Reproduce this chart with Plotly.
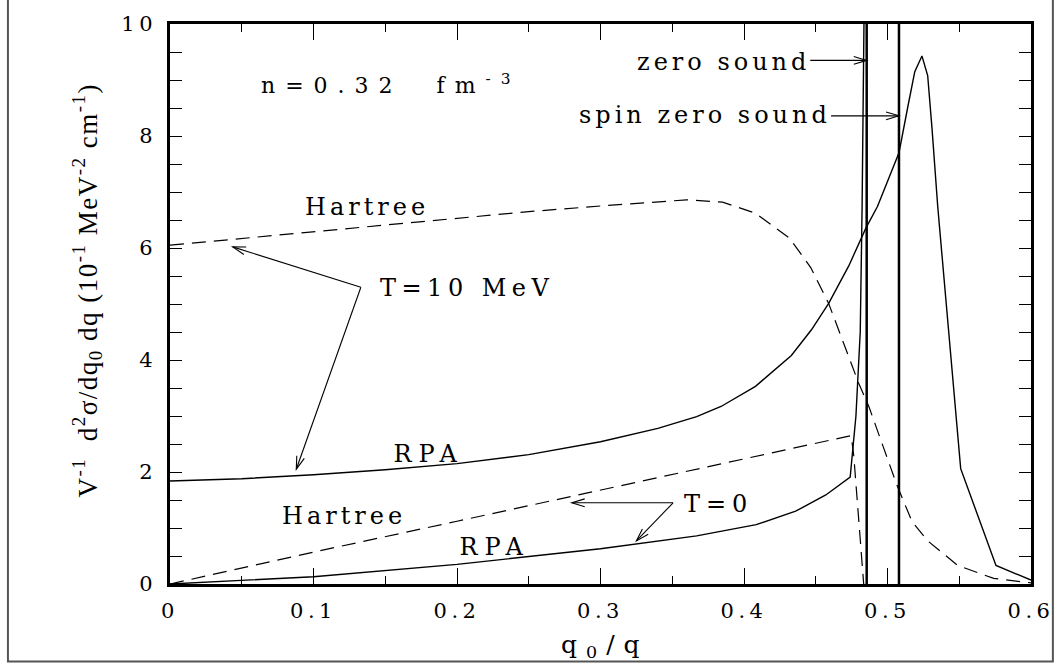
import plotly.graph_objects as go
import math
import json

# ---------------- data ----------------
x10_hartree = [0, 0.05, 0.1, 0.15, 0.2, 0.25, 0.3, 0.36, 0.385, 0.408, 0.4316, 0.4465,
               0.459, 0.468, 0.48, 0.487, 0.496, 0.5065, 0.517, 0.528, 0.549, 0.574, 0.6]
y10_hartree = [6.05, 6.17, 6.3, 6.42, 6.54, 6.65, 6.75, 6.86, 6.82, 6.62, 6.18, 5.65,
               5.01, 4.40, 3.58, 3.17, 2.53, 1.77, 1.12, 0.77, 0.33, 0.10, 0.02]

x10_rpa = [0, 0.05, 0.1, 0.15, 0.2, 0.25, 0.3, 0.34, 0.367, 0.384, 0.408, 0.433, 0.447,
           0.459, 0.473, 0.485, 0.493, 0.5, 0.508, 0.514, 0.519, 0.524, 0.528, 0.531,
           0.535, 0.551, 0.5756, 0.6]
y10_rpa = [1.84, 1.88, 1.95, 2.04, 2.15, 2.31, 2.54, 2.78, 2.99, 3.17, 3.53, 4.08, 4.54,
           5.01, 5.68, 6.36, 6.74, 7.2, 7.7, 8.5, 9.15, 9.43, 9.08, 8.14,
           6.74, 2.06, 0.33, 0.07]

x0_hartree = [0, 0.1, 0.2, 0.3, 0.381, 0.4747, 0.4765, 0.48, 0.4834]
y0_hartree = [0, 0.57, 1.12, 1.68, 2.12, 2.65, 2.29, 1.18, 0]

x0_rpa = [0, 0.1, 0.2, 0.3, 0.367, 0.4085, 0.436, 0.457, 0.474, 0.478, 0.481, 0.4823, 0.4838]
y0_rpa = [0, 0.13, 0.35, 0.63, 0.86, 1.06, 1.30, 1.59, 1.91, 3.0, 4.5, 6.74, 10.5]

x_zero_sound = 0.4855
x_spin_zero_sound = 0.508

x_ticks = [0, 0.1, 0.2, 0.3, 0.4, 0.5, 0.6]
x_ticklabels = ["0", "0.1", "0.2", "0.3", "0.4", "0.5", "0.6"]
y_ticks = [0, 2, 4, 6, 8, 10]
y_ticklabels = ["0", "2", "4", "6", "8", "10"]

X_RANGE = [0, 0.6]
Y_RANGE = [0, 10]

# ---------------- layout geometry ----------------
W, H = 1060, 667
ML, MR, MT, MB = 170, 24, 14, 83
PW = W - ML - MR
PH = H - MT - MB
SX = PW / (X_RANGE[1] - X_RANGE[0])   # px per data unit
SY = PH / (Y_RANGE[1] - Y_RANGE[0])

SERIF = "Liberation Serif"
WIDE = "DejaVu Serif"

fig = go.Figure()

line_black = "black"
fig.add_trace(go.Scatter(x=x10_hartree, y=y10_hartree, mode="lines",
                         line=dict(color=line_black, width=1.2, dash="14px,8px")))
fig.add_trace(go.Scatter(x=x10_rpa, y=y10_rpa, mode="lines",
                         line=dict(color=line_black, width=1.4)))
fig.add_trace(go.Scatter(x=x0_hartree, y=y0_hartree, mode="lines",
                         line=dict(color=line_black, width=1.2, dash="14px,8px")))
fig.add_trace(go.Scatter(x=x0_rpa, y=y0_rpa, mode="lines",
                         line=dict(color=line_black, width=1.4)))
for xv in (x_zero_sound, x_spin_zero_sound):
    fig.add_trace(go.Scatter(x=[xv, xv], y=Y_RANGE, mode="lines",
                             line=dict(color=line_black, width=2.5)))

# ---------------- arrows (line + open arrow head) ----------------
shapes = []


def arrow(x0, y0, x1, y1, L=13, hw=4):
    shapes.append(dict(type="line", xref="x", yref="y", x0=x0, y0=y0, x1=x1, y1=y1,
                       line=dict(color="black", width=1.1)))
    dxp = (x1 - x0) * SX
    dyp = (y1 - y0) * SY
    n = math.hypot(dxp, dyp)
    ux, uy = dxp / n, dyp / n
    px, py = -uy, ux
    bx, by = -ux * L, -uy * L
    a = (x1 + (bx + px * hw) / SX, y1 + (by + py * hw) / SY)
    b = (x1 + (bx - px * hw) / SX, y1 + (by - py * hw) / SY)
    path = f"M {a[0]},{a[1]} L {x1},{y1} L {b[0]},{b[1]}"
    shapes.append(dict(type="path", xref="x", yref="y", path=path,
                       line=dict(color="black", width=1.1)))


# zero sound / spin zero sound
arrow(0.4462, 9.35, x_zero_sound, 9.35)
arrow(0.4607, 8.36, x_spin_zero_sound, 8.36)
# T = 10 MeV
arrow(0.133, 5.30, 0.0437, 6.02)
arrow(0.133, 5.30, 0.088, 2.05)
# T = 0
arrow(0.3506, 1.45, 0.28, 1.45)
arrow(0.3506, 1.45, 0.325, 0.77)

# outer frame
shapes.append(dict(type="rect", xref="paper", yref="paper",
                   x0=(7 - ML) / PW, x1=(1058 - ML) / PW,
                   y0=-(663 - (MT + PH)) / PH, y1=1.2,
                   line=dict(color="#555555", width=2), layer="below"))

# ---------------- annotations ----------------
ann = []
spacing = []   # letter spacing (px) per annotation, applied in the page


def txt(x, y, t, size=24, family=WIDE, ls=0, xref="x", yref="y", angle=0):
    ann.append(dict(x=x, y=y, xref=xref, yref=yref, text=t,
                    showarrow=False, xanchor="center", yanchor="middle", textangle=angle,
                    font=dict(family=family, size=size, color="black")))
    spacing.append(ls)


txt(0.1538, 8.93, "n=0.32  fm<sup>-3</sup>", size=22, ls=10)
txt(0.3859, 9.33, "zero sound", size=24, ls=4)
txt(0.3731, 8.38, "spin zero sound", size=24, ls=4)
txt(0.1372, 6.74, "Hartree", size=24, ls=4)
txt(0.2073, 5.28, "T=10 MeV", size=24, ls=5.5)
txt(0.1803, 2.33, "RPA", size=24, ls=7)
txt(0.1214, 1.21, "Hartree", size=24, ls=4)
txt(0.3821, 1.42, "T=0", size=24, ls=6)
txt(0.2264, 0.66, "RPA", size=24, ls=7)

# axis titles
txt((608 - ML) / PW, -(647 - (MT + PH)) / PH, "q<sub>0</sub>/q", size=25, ls=9,
    xref="paper", yref="paper")
txt((87 - ML) / PW, (MT + PH - 285) / PH,
    "V<sup>-1</sup>  d<sup>2</sup>σ/dq<sub>0</sub> dq (10<sup>-1</sup> MeV<sup>-2</sup> cm<sup>-1</sup>)",
    size=27, family=SERIF, ls=1.5, xref="paper", yref="paper", angle=-90)

TICK_LS = 4.5

fig.update_layout(
    width=W, height=H,
    margin=dict(l=ML, r=MR, t=MT, b=MB),
    paper_bgcolor="white", plot_bgcolor="white",
    showlegend=False,
    shapes=shapes, annotations=ann,
    xaxis=dict(range=X_RANGE, showgrid=False, zeroline=False,
               showline=True, linecolor="black", linewidth=2.5, mirror="ticks",
               ticks="inside", ticklen=16, tickwidth=1.3, tickcolor="black",
               tickvals=x_ticks, ticktext=x_ticklabels,
               tickfont=dict(family=WIDE, size=21, color="black"),
               ticklabelstandoff=6,
               minor=dict(dtick=0.05, ticks="inside", ticklen=8, tickwidth=1.3,
                          tickcolor="black", showgrid=False)),
    yaxis=dict(range=Y_RANGE, showgrid=False, zeroline=False,
               showline=True, linecolor="black", linewidth=2.5, mirror="ticks",
               ticks="inside", ticklen=12, tickwidth=1.3, tickcolor="black",
               tickvals=y_ticks, ticktext=y_ticklabels,
               tickfont=dict(family=WIDE, size=21, color="black"),
               ticklabelstandoff=6,
               minor=dict(dtick=0.5, ticks="inside", ticklen=12, tickwidth=1.3,
                          tickcolor="black", showgrid=False)),
)

post = """
var gd = document.getElementById('{plot_id}');
var LS = %s;
var TLS = %s;
function widen() {
  gd.querySelectorAll('g.annotation').forEach(function (g) {
    var i = +g.getAttribute('data-index');
    var t = g.querySelector('text.annotation-text');
    if (t && LS[i]) { t.style.letterSpacing = LS[i] + 'px'; }
  });
  gd.querySelectorAll('g.xtick text, g.ytick text').forEach(function (t) {
    t.style.letterSpacing = TLS + 'px';
  });
}
widen();
if (gd.on) { gd.on('plotly_afterplot', widen); }
""" % (json.dumps(spacing), json.dumps(TICK_LS))

fig.write_html("out.html", post_script=post)
